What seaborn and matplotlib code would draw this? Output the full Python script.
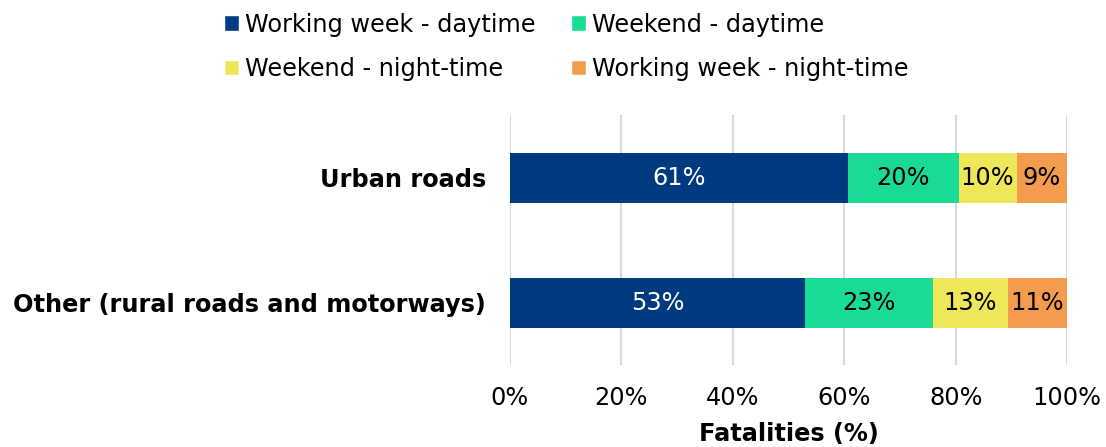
import matplotlib
matplotlib.use('Agg')
import matplotlib.pyplot as plt
from matplotlib.patches import Patch
import seaborn as sns
import pandas as pd
import numpy as np

# data
categories = ['Urban roads', 'Other (rural roads and motorways)']
series = ['Working week - daytime', 'Weekend - daytime',
          'Weekend - night-time', 'Working week - night-time']
ww_day = [60.6, 53.0]
we_day = [19.9, 22.9]
we_night = [10.4, 13.4]
ww_night = [9.1, 10.7]
colors = ['#003A80', '#1ADB94', '#EFE75A', '#F39C4D']
text_colors = ['white', 'black', 'black', 'black']

sns.set_style('white')
plt.rcParams['font.family'] = ['DejaVu Sans']
plt.rcParams['text.color'] = 'black'
plt.rcParams['axes.labelcolor'] = 'black'
plt.rcParams['xtick.color'] = 'black'
plt.rcParams['ytick.color'] = 'black'

fs = 17.3

df = pd.DataFrame({'category': categories,
                   series[0]: ww_day, series[1]: we_day,
                   series[2]: we_night, series[3]: ww_night})

# cumulative sums for stacking
cum = df[series].cumsum(axis=1)

fig = plt.figure(figsize=(11.06, 4.47), dpi=100)
ax = fig.add_axes([0.461, 0.1834, 0.504, 0.5593])

# draw from the longest (total) to the shortest so each layer shows
for i in range(len(series) - 1, -1, -1):
    sns.barplot(x=cum[series[i]], y=df['category'], color=colors[i],
                orient='h', width=0.4, linewidth=0, saturation=1, ax=ax)

# segment labels
for i, s in enumerate(series):
    left = cum[s] - df[s]
    for j in range(len(categories)):
        ax.text(left[j] + df[s][j] / 2, j, f'{df[s][j]:.0f}%',
                ha='center', va='center', fontsize=fs, color=text_colors[i])

ax.set_xlim(0, 100)
ax.set_ylim(1.5, -0.5)
ax.set_xticks(range(0, 101, 20))
ax.set_xticklabels([f'{t}%' for t in range(0, 101, 20)], fontsize=fs)
ax.set_yticklabels(categories, fontsize=fs, fontweight='bold')
ax.tick_params(axis='x', length=0, pad=15)
ax.tick_params(axis='y', length=0, pad=17)
ax.set_ylabel('')
ax.set_xlabel('Fatalities (%)', fontsize=fs, fontweight='bold', labelpad=9)
ax.xaxis.grid(True, color='#D9D9D9', linewidth=1.5)
ax.set_axisbelow(True)
for sp in ax.spines.values():
    sp.set_visible(False)

# legend: column-wise fill order
order = [0, 2, 1, 3]
handles = [Patch(facecolor=colors[k], label=series[k]) for k in order]
fig.legend(handles=handles, loc='upper center', bbox_to_anchor=(0.512, 1.02),
           ncol=2, frameon=False, fontsize=fs, handlelength=0.62,
           handleheight=0.62, handletextpad=0.25, columnspacing=1.45,
           labelspacing=0.85)

plt.savefig('out.png', dpi=100)
